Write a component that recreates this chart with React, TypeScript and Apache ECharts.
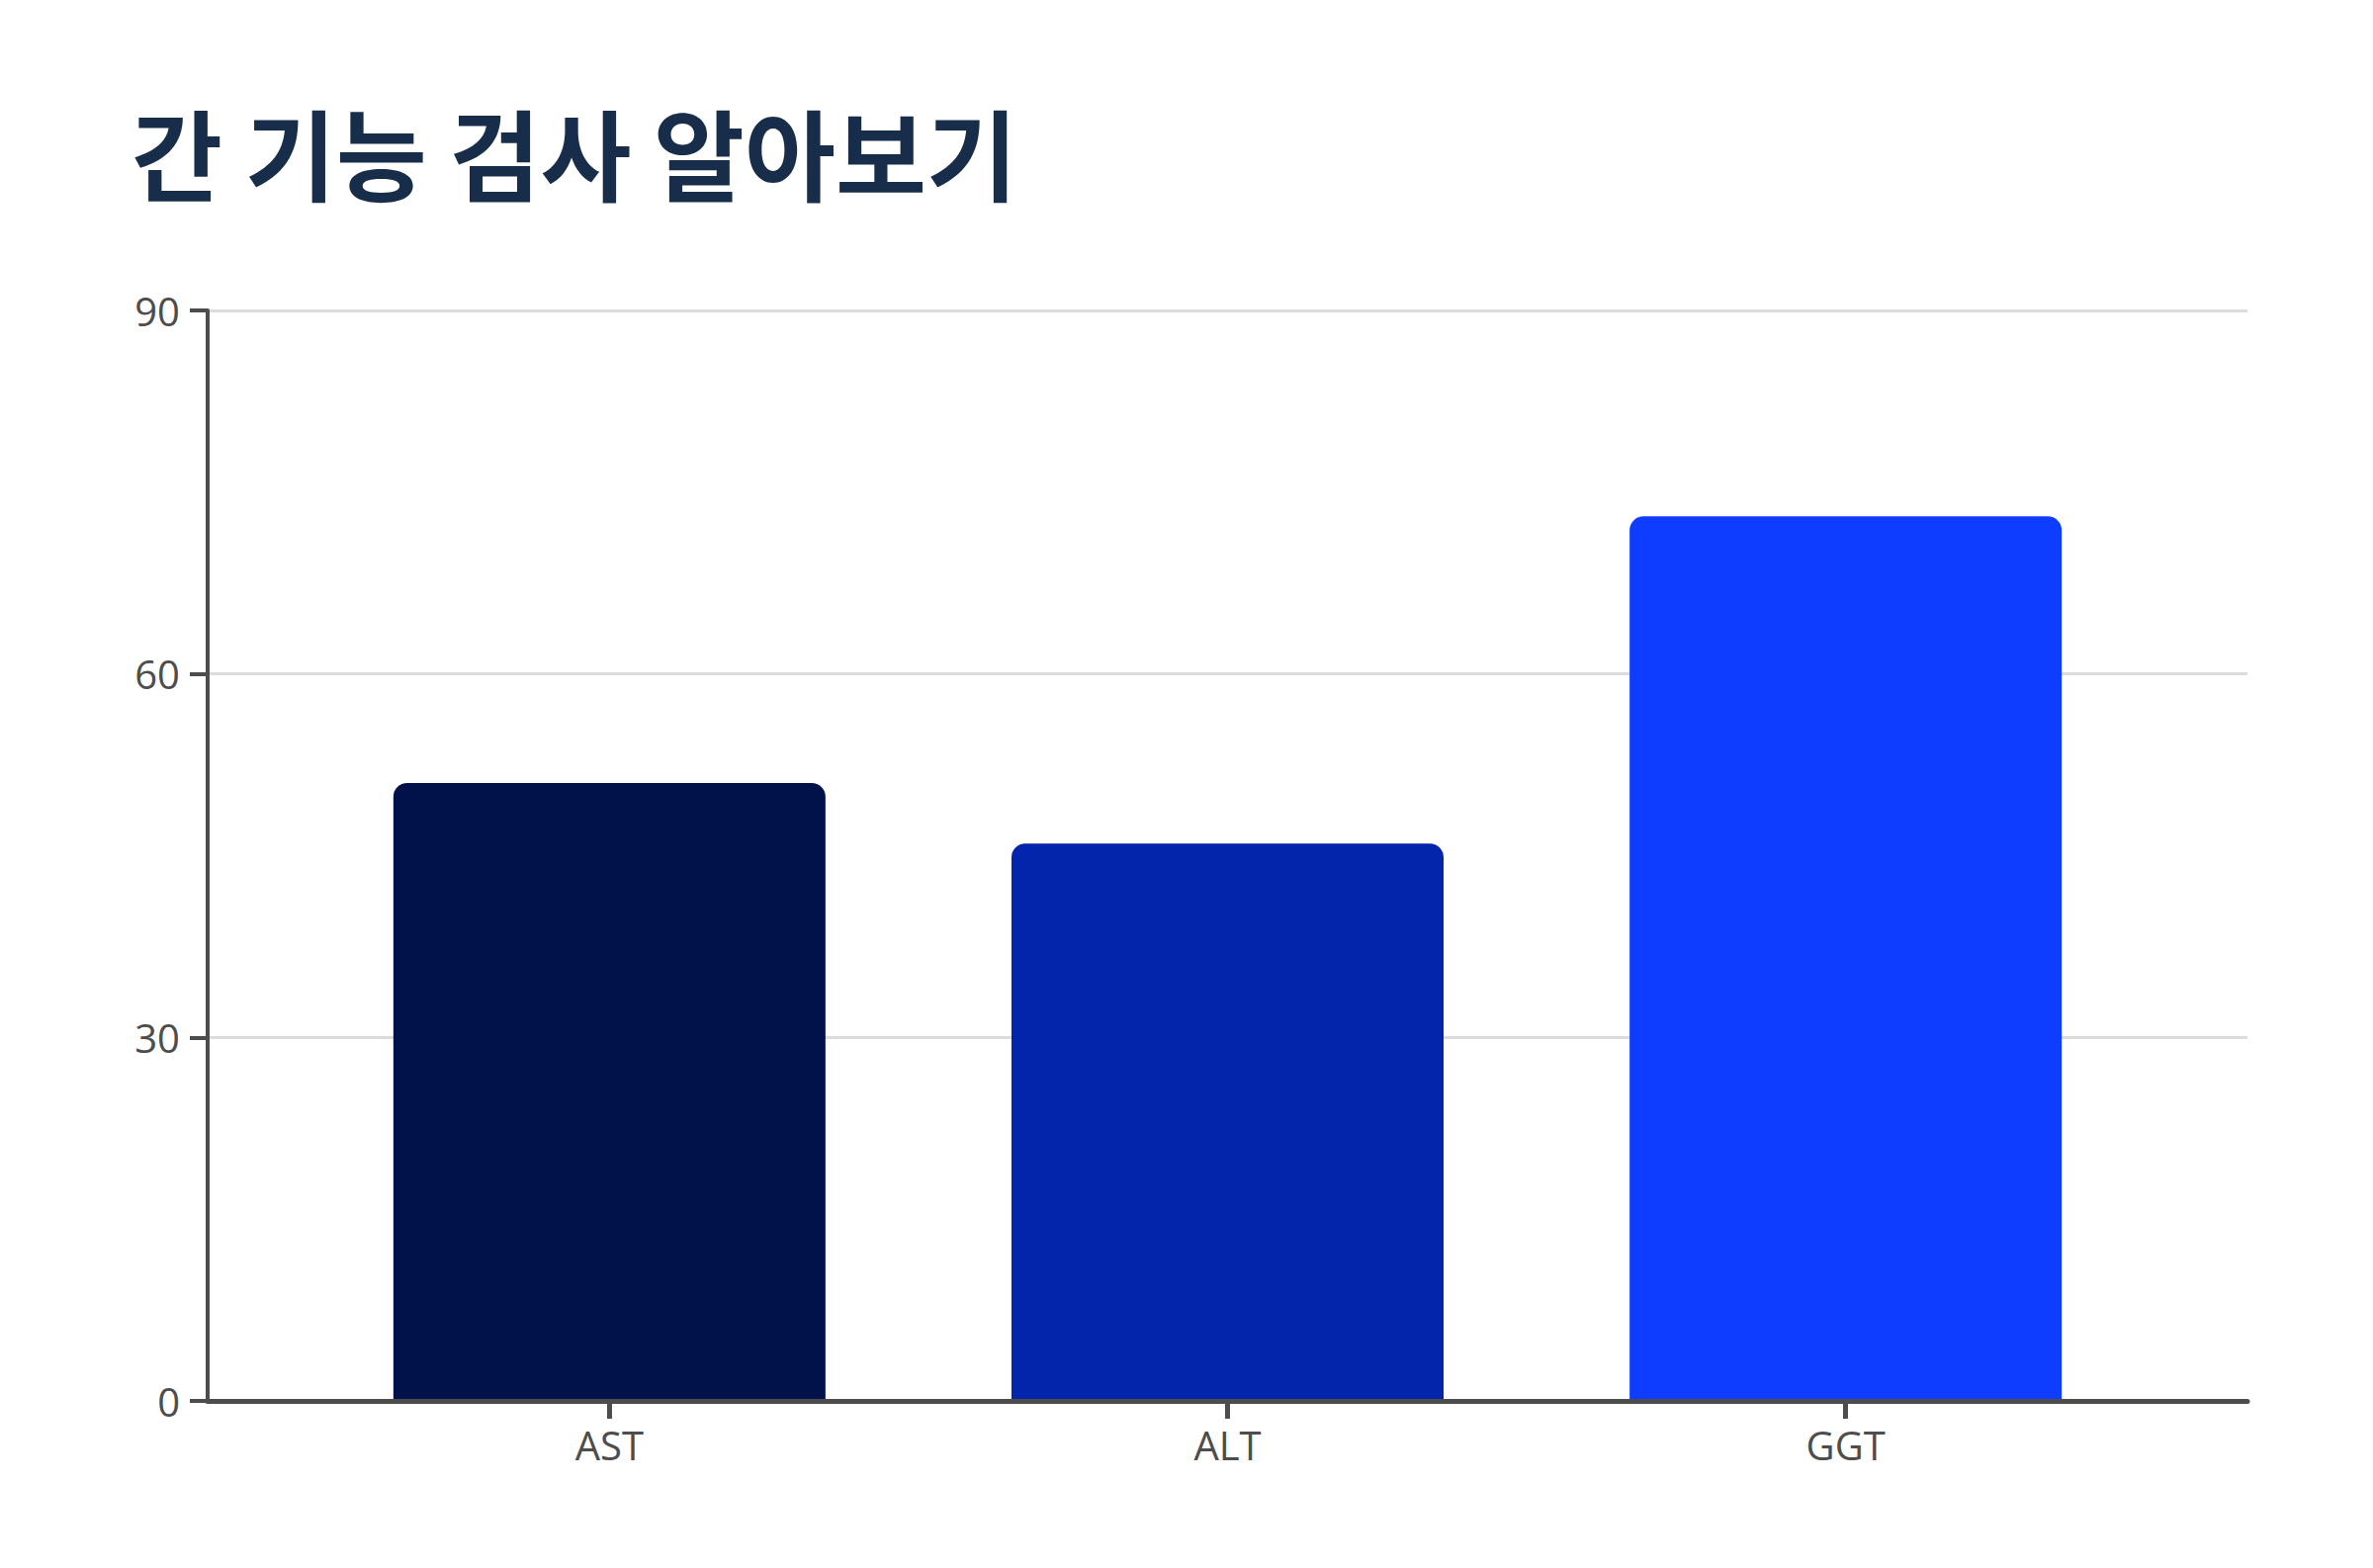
import React, { useEffect, useRef } from 'react';
import * as echarts from 'echarts';

// liver function tests
const categories = ['AST', 'ALT', 'GGT'];
const values = [51, 46, 73];
const barColors = ['#001249', '#0225ac', '#0f3dff'];
const yTicks = [0, 30, 60, 90];

const TITLE = '간 기능 검사 알아보기';

const App: React.FC = () => {
  const chartRef = useRef<HTMLDivElement>(null);

  useEffect(() => {
    if (!chartRef.current) return;
    document.body.style.margin = '0';

    const chart = echarts.init(chartRef.current, undefined, { renderer: 'svg' });

    const option: any = {
      animation: false,
      backgroundColor: '#ffffff',
      title: {
        text: TITLE,
        left: 128,
        top: 97,
        textStyle: {
          fontFamily: '"Noto Sans CJK KR", "Noto Sans", sans-serif',
          fontSize: 100,
          fontWeight: 'bold',
          color: '#182d49',
        },
      },
      grid: {
        left: 210,
        right: 127,
        top: 314,
        bottom: 169,
      },
      xAxis: {
        type: 'value',
        min: -0.65,
        max: 2.65,
        z: 5,
        splitLine: { show: false },
        axisLine: {
          show: true,
          onZero: false,
          lineStyle: { color: '#4d4d4d', width: 5 },
        },
        axisTick: {
          show: true,
          customValues: [0, 1, 2],
          length: 18,
          lineStyle: { color: '#4d4d4d', width: 5 },
        },
        axisLabel: {
          customValues: [0, 1, 2],
          margin: 24,
          fontFamily: '"Open Sans", sans-serif',
          fontSize: 40,
          color: '#4d4d4d',
          formatter: (v: number) => categories[Math.round(v)] ?? '',
        },
      },
      yAxis: {
        type: 'value',
        min: yTicks[0],
        max: yTicks[yTicks.length - 1],
        interval: 30,
        axisLine: {
          show: true,
          onZero: false,
          lineStyle: { color: '#4d4d4d', width: 4 },
        },
        axisTick: {
          show: true,
          length: 18,
          lineStyle: { color: '#4d4d4d', width: 4 },
        },
        axisLabel: {
          margin: 28,
          fontFamily: '"Open Sans", sans-serif',
          fontSize: 40,
          color: '#4d4d4d',
        },
        splitLine: {
          show: true,
          lineStyle: { color: '#dcdcdc', width: 3 },
        },
      },
      series: [
        {
          type: 'bar',
          barWidth: 437,
          z: 3,
          data: values.map((v, i) => ({
            value: [i, v],
            itemStyle: { color: barColors[i], borderRadius: [14, 14, 0, 0] },
          })),
        },
      ],
    };

    chart.setOption(option);

    return () => {
      chart.dispose();
    };
  }, []);

  return <div ref={chartRef} style={{ width: 2400, height: 1586 }} />;
};

export default App;
